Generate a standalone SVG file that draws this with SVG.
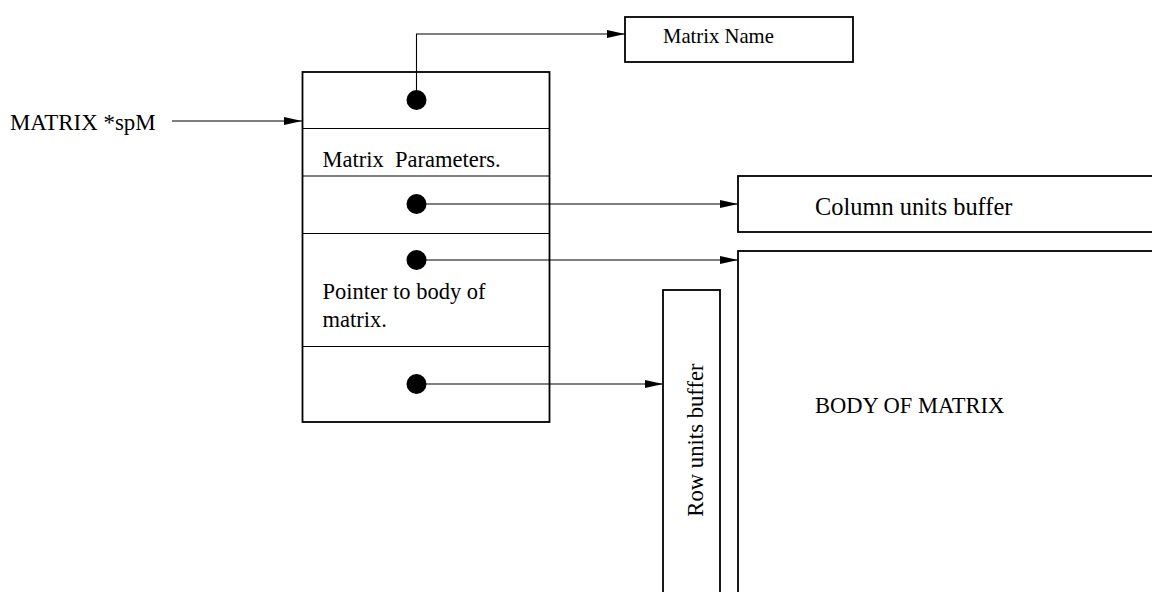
<svg xmlns="http://www.w3.org/2000/svg" width="1152" height="592" viewBox="0 0 1152 592">
<defs>
<marker id="arr" markerWidth="18" markerHeight="8" refX="18" refY="4" orient="auto" markerUnits="userSpaceOnUse">
<path d="M0,0 L18,4 L0,8 Z" fill="#000"/>
</marker>
</defs>
<style>
.box{fill:#fff;stroke:#000;stroke-width:1.8}
.div{stroke:#000;stroke-width:1.1}
.con{fill:none;stroke:#000;stroke-width:1.1}
.t{font-family:"Liberation Serif",serif;font-size:22.5px;fill:#000;white-space:pre}
.dot{fill:#000}
</style>
<rect width="1152" height="592" fill="#fff"/>
<g id="matrix-name">
<rect class="box" x="625" y="17" width="228" height="45"/>
<text class="t" x="663" y="43" style="font-size:20.7px">Matrix Name</text>
</g>
<g id="spm-label">
<text class="t" x="10" y="130" style="font-size:22.9px">MATRIX *spM</text>
</g>
<g id="matrix-struct">
<rect class="box" x="302.5" y="72" width="247" height="350"/>
<line class="div" x1="302" y1="128.5" x2="549" y2="128.5"/>
<line class="div" x1="302" y1="176" x2="549" y2="176"/>
<line class="div" x1="302" y1="233.5" x2="549" y2="233.5"/>
<line class="div" x1="302" y1="346.5" x2="549" y2="346.5"/>
<text class="t" x="322.5" y="167" xml:space="preserve">Matrix  Parameters.</text>
<text class="t" x="322.5" y="299">Pointer to body of</text>
<text class="t" x="322.5" y="327">matrix.</text>
<circle class="dot" cx="416.5" cy="100" r="10"/>
<circle class="dot" cx="416.5" cy="204" r="10"/>
<circle class="dot" cx="416.5" cy="260" r="10"/>
<circle class="dot" cx="416.5" cy="384" r="10"/>
</g>
<g id="column-units">
<rect class="box" x="738" y="176" width="420" height="56"/>
<text class="t" x="815" y="215" style="font-size:24.4px">Column units buffer</text>
</g>
<g id="body-of-matrix">
<rect class="box" x="738" y="251" width="420" height="350"/>
<text class="t" x="815" y="413">BODY OF MATRIX</text>
</g>
<g id="row-units">
<rect class="box" x="663" y="290" width="57" height="310"/>
<text class="t" transform="translate(703,440) rotate(-90)" text-anchor="middle" style="font-size:22.7px">Row units buffer</text>
</g>
<g id="connectors">
<path class="con" d="M416.5,100 V34 H625" marker-end="url(#arr)"/>
<path class="con" d="M172,121 H302" marker-end="url(#arr)"/>
<path class="con" d="M416.5,204 H738" marker-end="url(#arr)"/>
<path class="con" d="M416.5,260 H738" marker-end="url(#arr)"/>
<path class="con" d="M416.5,384 H663" marker-end="url(#arr)"/>
</g>
</svg>
